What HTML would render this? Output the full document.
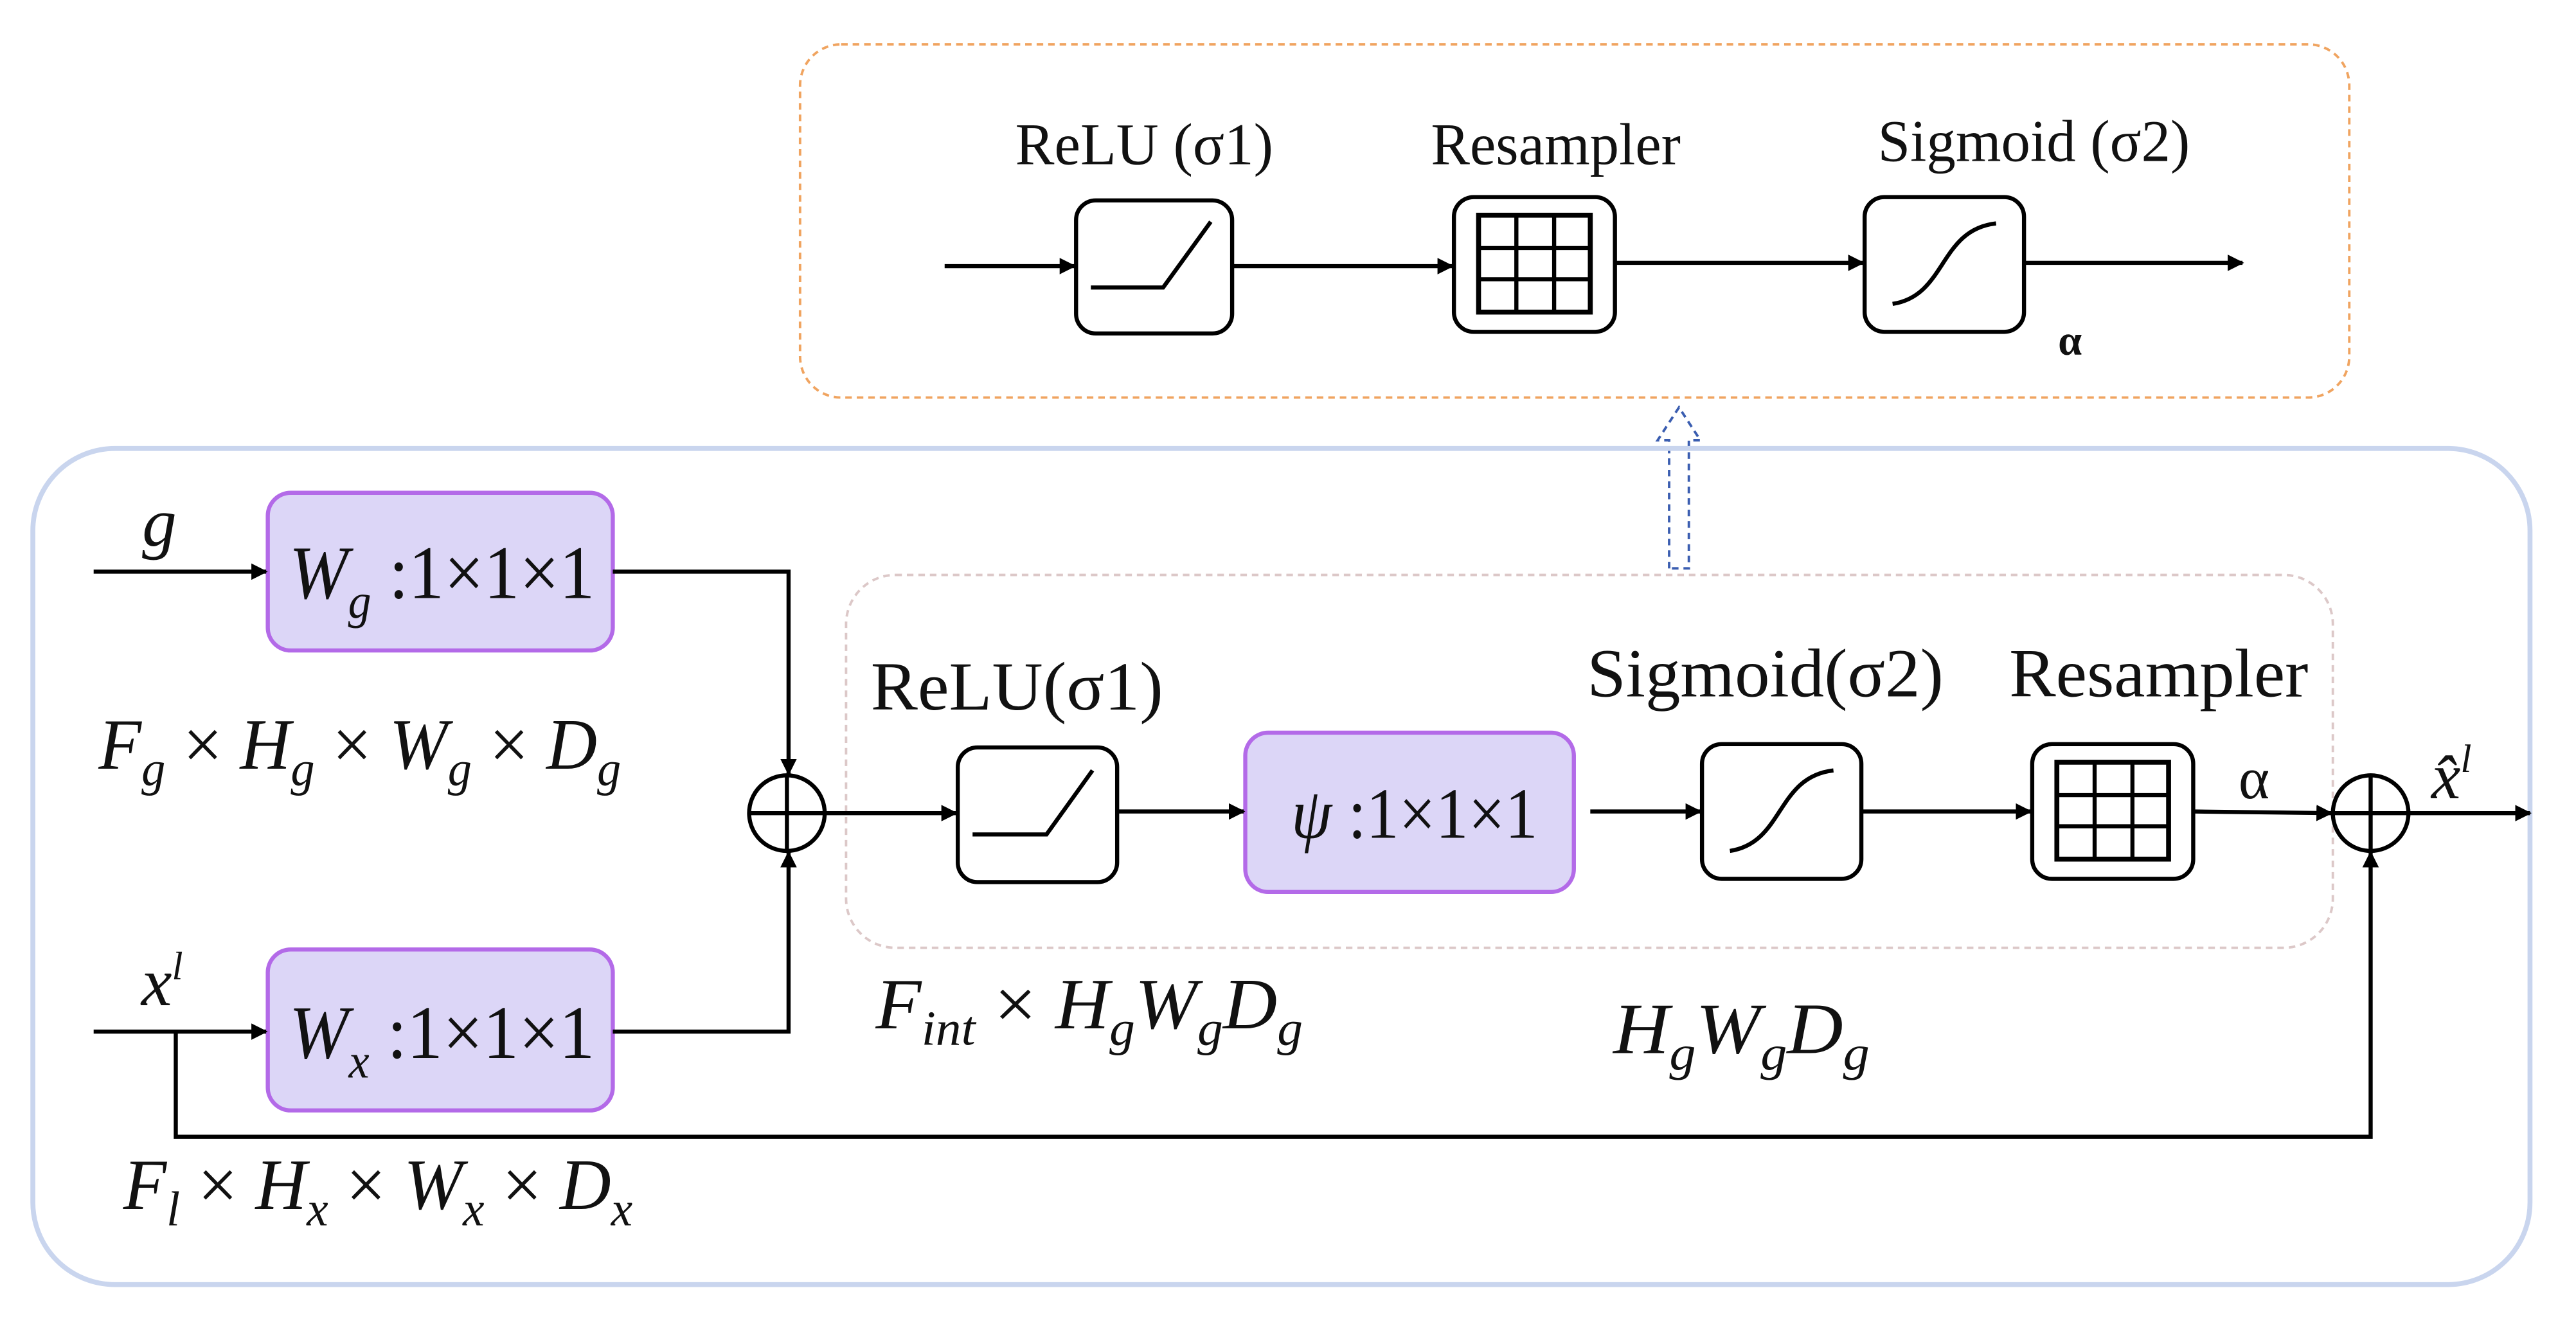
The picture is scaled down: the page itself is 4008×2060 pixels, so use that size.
<!DOCTYPE html>
<html><head><meta charset="utf-8"><style>
html,body{margin:0;padding:0;background:#fff;}
svg{display:block;}
text{font-family:"Liberation Serif",serif;fill:#111;}
.it{font-style:italic;}
</style></head><body>
<svg width="4008" height="2060" viewBox="0 0 1568 806" preserveAspectRatio="none" xmlns="http://www.w3.org/2000/svg">
<defs>
<marker id="ah" markerWidth="10" markerHeight="10" refX="9" refY="5" orient="auto" markerUnits="userSpaceOnUse"><path d="M0,0 L10,5 L0,10 Z" fill="#000"/></marker>
</defs>
<rect x="487" y="27" width="943" height="215" rx="25" fill="none" stroke="#f0a460" stroke-width="1.5" stroke-dasharray="4,3"/>
<text x="618" y="100" font-size="36" textLength="157" lengthAdjust="spacingAndGlyphs">ReLU (σ1)</text>
<text x="871" y="100" font-size="36" textLength="152" lengthAdjust="spacingAndGlyphs">Resampler</text>
<text x="1143" y="98" font-size="36" textLength="190" lengthAdjust="spacingAndGlyphs">Sigmoid (σ2)</text>
<g stroke="#000" stroke-width="2.5" fill="none">
<line x1="575" y1="162" x2="654" y2="162" marker-end="url(#ah)"/>
<rect x="655" y="122" width="95" height="81" rx="12"/>
<polyline points="664,175 708,175 737,135"/>
<line x1="750" y1="162" x2="884" y2="162" marker-end="url(#ah)"/>
<rect x="885" y="120" width="98" height="82" rx="12"/>
<rect x="900" y="131" width="68" height="59" stroke-width="3"/>
<line x1="900" y1="151" x2="968" y2="151"/><line x1="900" y1="170" x2="968" y2="170"/>
<line x1="923" y1="131" x2="923" y2="190"/><line x1="946" y1="131" x2="946" y2="190"/>
<line x1="983" y1="160" x2="1134" y2="160" marker-end="url(#ah)"/>
<rect x="1135" y="120" width="97" height="82" rx="12"/>
<path d="M1152,185 C1185,180 1180,140 1215,136"/>
<line x1="1232" y1="160" x2="1365" y2="160" marker-end="url(#ah)"/>
</g>
<text x="1260" y="216" font-size="26" font-weight="bold" text-anchor="middle">α</text>
<path d="M1016,346 L1016,268 L1009,268 L1022,248 L1035,268 L1028,268 L1028,346 Z" fill="none" stroke="#3a5db0" stroke-width="1.5" stroke-dasharray="4,3"/>
<rect x="20" y="273" width="1520" height="509" rx="50" fill="none" stroke="#c9d5ee" stroke-width="3"/>
<rect x="515" y="350" width="905" height="227" rx="30" fill="none" stroke="#dcc8c8" stroke-width="1.5" stroke-dasharray="4,3"/>
<g fill="#dcd6f7" stroke="#b36ae8" stroke-width="2.5">
<rect x="163" y="300" width="210" height="96" rx="14"/>
<rect x="163" y="578" width="210" height="98" rx="14"/>
<rect x="758" y="446" width="200" height="97" rx="14"/>
</g>
<g stroke="#000" stroke-width="2.5" fill="none">
<line x1="57" y1="348" x2="162" y2="348" marker-end="url(#ah)"/>
<line x1="57" y1="628" x2="162" y2="628" marker-end="url(#ah)"/>
<polyline points="373,348 480,348 480,471" marker-end="url(#ah)"/>
<polyline points="373,628 480,628 480,519" marker-end="url(#ah)"/>
<circle cx="479" cy="495" r="23"/>
<line x1="456" y1="495" x2="502" y2="495"/><line x1="479" y1="472" x2="479" y2="518"/>
<line x1="502" y1="495" x2="582" y2="495" marker-end="url(#ah)"/>
<rect x="583" y="455" width="97" height="82" rx="12"/>
<polyline points="592,508 637,508 665,469"/>
<line x1="680" y1="494" x2="757" y2="494" marker-end="url(#ah)"/>
<line x1="968" y1="494" x2="1035" y2="494" marker-end="url(#ah)"/>
<rect x="1036" y="453" width="97" height="82" rx="12"/>
<path d="M1053,518 C1086,513 1081,473 1116,469"/>
<line x1="1133" y1="494" x2="1236" y2="494" marker-end="url(#ah)"/>
<rect x="1237" y="453" width="98" height="82" rx="12"/>
<rect x="1252" y="464" width="68" height="59" stroke-width="3"/>
<line x1="1252" y1="484" x2="1320" y2="484"/><line x1="1252" y1="503" x2="1320" y2="503"/>
<line x1="1275" y1="464" x2="1275" y2="523"/><line x1="1298" y1="464" x2="1298" y2="523"/>
<line x1="1335" y1="494" x2="1419" y2="495" marker-end="url(#ah)"/>
<circle cx="1443" cy="495" r="23"/>
<line x1="1420" y1="495" x2="1466" y2="495"/><line x1="1443" y1="472" x2="1443" y2="518"/>
<line x1="1466" y1="495" x2="1540" y2="495" marker-end="url(#ah)"/>
<polyline points="107,628 107,692 1443,692 1443,519" marker-end="url(#ah)"/>
</g>
<text x="97" y="332" font-size="42" class="it" text-anchor="middle">g</text>
<text x="86" y="612" font-size="42" class="it">x<tspan font-size="24" dy="-16">l</tspan></text>
<text x="176" y="364" font-size="46" textLength="186" lengthAdjust="spacingAndGlyphs"><tspan class="it">W</tspan><tspan class="it" font-size="30" dy="12">g</tspan><tspan dy="-12"> :1×1×1</tspan></text>
<text x="176" y="644" font-size="46" textLength="186" lengthAdjust="spacingAndGlyphs"><tspan class="it">W</tspan><tspan class="it" font-size="30" dy="12">x</tspan><tspan dy="-12"> :1×1×1</tspan></text>
<text x="786" y="510" font-size="44" textLength="150" lengthAdjust="spacingAndGlyphs"><tspan class="it">ψ</tspan> :1×1×1</text>
<text x="60" y="468" font-size="44" textLength="318" lengthAdjust="spacingAndGlyphs"><tspan class="it">F</tspan><tspan class="it" font-size="30" dy="10">g</tspan><tspan dy="-10"> × </tspan><tspan class="it">H</tspan><tspan class="it" font-size="30" dy="10">g</tspan><tspan dy="-10"> × </tspan><tspan class="it">W</tspan><tspan class="it" font-size="30" dy="10">g</tspan><tspan dy="-10"> × </tspan><tspan class="it">D</tspan><tspan class="it" font-size="30" dy="10">g</tspan></text>
<text x="75" y="736" font-size="44" textLength="310" lengthAdjust="spacingAndGlyphs"><tspan class="it">F</tspan><tspan class="it" font-size="30" dy="10">l</tspan><tspan dy="-10"> × </tspan><tspan class="it">H</tspan><tspan class="it" font-size="30" dy="10">x</tspan><tspan dy="-10"> × </tspan><tspan class="it">W</tspan><tspan class="it" font-size="30" dy="10">x</tspan><tspan dy="-10"> × </tspan><tspan class="it">D</tspan><tspan class="it" font-size="30" dy="10">x</tspan></text>
<text x="533" y="626" font-size="44" textLength="260" lengthAdjust="spacingAndGlyphs"><tspan class="it">F</tspan><tspan class="it" font-size="30" dy="10">int</tspan><tspan dy="-10"> × </tspan><tspan class="it">H</tspan><tspan class="it" font-size="30" dy="10">g</tspan><tspan class="it" dy="-10">W</tspan><tspan class="it" font-size="30" dy="10">g</tspan><tspan class="it" dy="-10">D</tspan><tspan class="it" font-size="30" dy="10">g</tspan></text>
<text x="982" y="641" font-size="44" textLength="156" lengthAdjust="spacingAndGlyphs"><tspan class="it">H</tspan><tspan class="it" font-size="30" dy="10">g</tspan><tspan class="it" dy="-10">W</tspan><tspan class="it" font-size="30" dy="10">g</tspan><tspan class="it" dy="-10">D</tspan><tspan class="it" font-size="30" dy="10">g</tspan></text>
<text x="530" y="432" font-size="42" textLength="178" lengthAdjust="spacingAndGlyphs">ReLU(σ1)</text>
<text x="966" y="424" font-size="42" textLength="217" lengthAdjust="spacingAndGlyphs">Sigmoid(σ2)</text>
<text x="1223" y="424" font-size="42" textLength="182" lengthAdjust="spacingAndGlyphs">Resampler</text>
<text x="1372" y="486" font-size="36" text-anchor="middle">α</text>
<text x="1480" y="486" font-size="40" class="it">x̂<tspan font-size="24" dy="-16">l</tspan></text>
</svg>
</body></html>
